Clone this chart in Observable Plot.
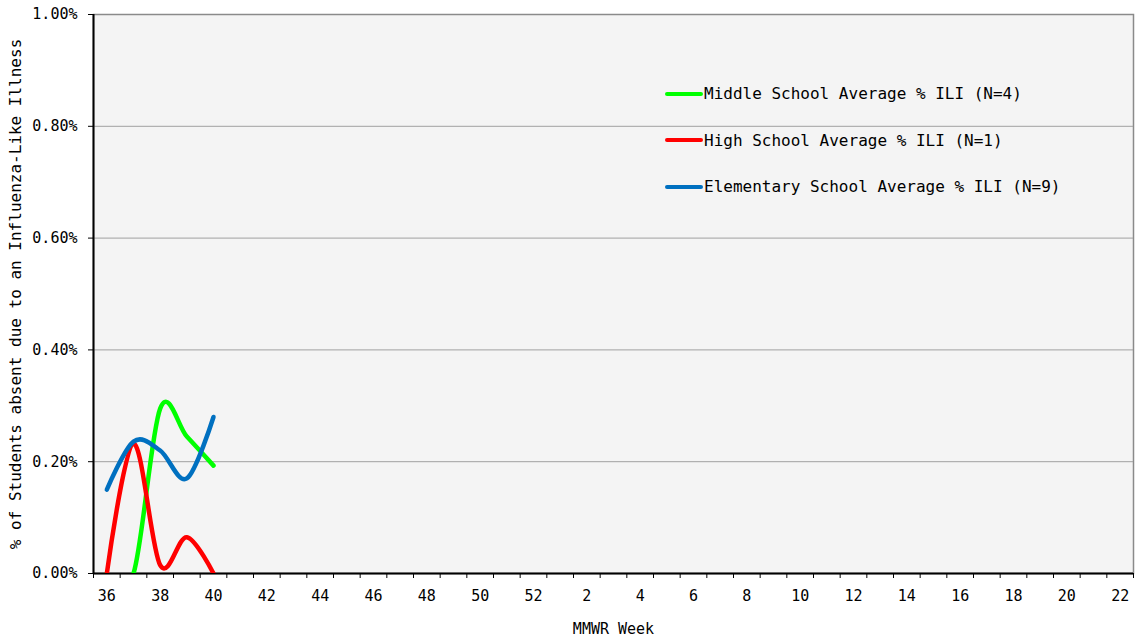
<!DOCTYPE html>
<html>
<head>
<meta charset="utf-8">
<script src="https://cdn.jsdelivr.net/npm/d3@7"></script>
<script src="https://cdn.jsdelivr.net/npm/@observablehq/plot@0.6"></script>
<style>
  html, body { margin: 0; padding: 0; background: #fff; }
  #wrap { position: relative; width: 1136px; height: 641px; font-family: "DejaVu Sans Mono", monospace; }
  #legend { position: absolute; left: 665px; top: 82px; font-size: 16px; color: #000; }
  #legend .row { display: flex; align-items: center; height: 23px; margin-bottom: 23.5px; }
  #legend .sw { width: 38px; height: 4px; border-radius: 2px; margin-right: 1px; }
  svg g[aria-label="y-axis label"] text { font-size: 16px; }
  svg g[aria-label="x-axis label"] text { font-size: 15px; }
</style>
</head>
<body>
<div id="wrap"><div id="legend"></div></div>
<script>
// MMWR weeks (season order)
const weeks = [36,37,38,39,40,41,42,43,44,45,46,47,48,49,50,51,52,1,2,3,4,5,6,7,8,9,10,11,12,13,14,15,16,17,18,19,20,21,22];
const reportedWeeks = [36, 37, 38, 39, 40];
const seriesNames = [
  "Middle School Average % ILI (N=4)",
  "High School Average % ILI (N=1)",
  "Elementary School Average % ILI (N=9)"
];
const seriesColors = ["#00ff00", "#ff0000", "#0070c0"];
const middleSchool = [0, 0, 0.295, 0.245, 0.193];
const highSchool = [0, 0.232, 0.015, 0.065, 0];
const elementarySchool = [0.15, 0.236, 0.22, 0.17, 0.28];
const yTicks = [0, 0.2, 0.4, 0.6, 0.8, 1.0];

const seriesValues = [middleSchool, highSchool, elementarySchool];
const data = [];
seriesNames.forEach((name, s) => {
  reportedWeeks.forEach((w, j) => {
    data.push({series: name, i: weeks.indexOf(w), value: seriesValues[s][j]});
  });
});
const idx = weeks.map((w, i) => i);
const boundaries = d3.range(-0.5, weeks.length, 1);

const chart = Plot.plot({
  width: 1136,
  height: 641,
  marginLeft: 93,
  marginRight: 3,
  marginTop: 14,
  marginBottom: 68,
  style: {fontFamily: "DejaVu Sans Mono, monospace", fontSize: "15px", background: "transparent", color: "#000"},
  x: {type: "linear", domain: [-0.5, weeks.length - 0.5]},
  y: {domain: [0, 1]},
  color: {domain: seriesNames, range: seriesColors},
  marks: [
    Plot.frame({fill: "#f4f4f4", stroke: "#8a8a8a", strokeWidth: 1.5}),
    Plot.gridY({ticks: [0.2, 0.4, 0.6, 0.8], stroke: "#a0a0a0", strokeOpacity: 1, strokeWidth: 1}),
    Plot.axisY({ticks: yTicks, tickSize: 5, tickPadding: 11, tickFormat: d => d.toFixed(2) + "%",
      label: "% of Students absent due to an Influenza-Like Illness", labelAnchor: "center", labelArrow: "none", labelOffset: 84}),
    Plot.axisX({ticks: boundaries, tickSize: 5, tickFormat: () => "", label: null}),
    Plot.axisX({ticks: idx.filter(i => i % 2 === 0), tickSize: 0, tickPadding: 17, tickFormat: i => String(weeks[i]),
      label: "MMWR Week", labelAnchor: "center", labelArrow: "none", labelOffset: 60}),
    Plot.ruleX([-0.5], {stroke: "#000", strokeWidth: 2}),
    Plot.ruleY([0], {stroke: "#000", strokeWidth: 2}),
    Plot.line(data, {x: "i", y: "value", z: "series", stroke: "series", curve: "cardinal", strokeWidth: 4.5, clip: true})
  ]
});
document.getElementById("wrap").prepend(chart);

const legend = document.getElementById("legend");
seriesNames.forEach((name, s) => {
  const row = document.createElement("div");
  row.className = "row";
  const sw = document.createElement("div");
  sw.className = "sw";
  sw.style.background = seriesColors[s];
  const t = document.createElement("span");
  t.textContent = name;
  row.appendChild(sw);
  row.appendChild(t);
  legend.appendChild(row);
});
</script>
</body>
</html>
